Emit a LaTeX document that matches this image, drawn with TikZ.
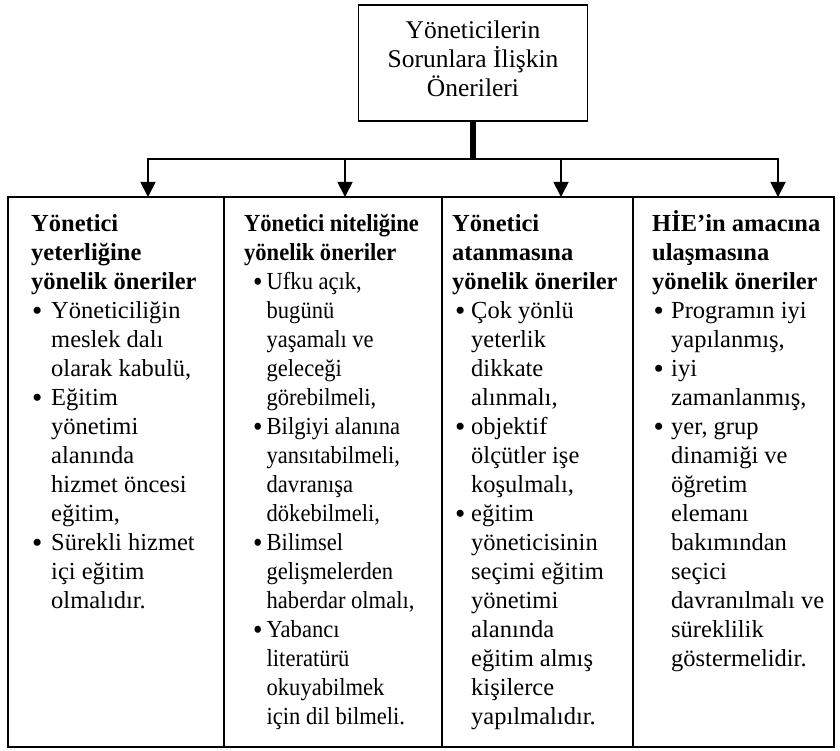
\documentclass[tikz,border=0pt]{standalone}
\usepackage{fontspec}
\setmainfont{Liberation Serif}
\newfontfamily\narrowserif{Liberation Serif}[FakeStretch=0.92]
\usetikzlibrary{arrows.meta}

\newcommand{\colfont}{\fontsize{24.5}{29}\selectfont}
\newcommand{\boxfont}{\fontsize{25.5}{29}\selectfont}
% 项目符号行 / 续行（缩进量由 \bi、\ti 给出）
\newcommand{\blt}{\makebox[\ti][l]{\hspace{\bi}\raisebox{-2.2pt}{\scalebox{1.2}{\textbullet}}}}
\newcommand{\cnt}{\hspace*{\ti}}
\newcommand{\firstline}{\rule{0pt}{23pt}}

\tikzset{
  topbox/.style={draw, line width=1.8pt, minimum width=229pt, minimum height=116pt,
    inner sep=0pt, align=center, font=\boxfont},
  cell/.style={draw, line width=1.8pt, anchor=north west, inner sep=0pt, outer sep=0pt,
    minimum height=550pt},
  coltext/.style 2 args={anchor=north west, inner sep=0pt, align=left, font=\colfont,
    execute at begin node={\def\bi{#1}\def\ti{#2}}},
  conn/.style={line width=1.8pt},
  tip/.tip={Triangle[width=15pt,length=15pt]},
}

\begin{document}
\begin{tikzpicture}[x=1pt, y=-1pt]

  %% ════ 顶部方框 ════
  \node[topbox] (top) at (473,63) {Yöneticilerin\\Sorunlara İlişkin\\Önerileri\strut};

  %% ════ 四列表格 ════
  \node[cell, minimum width=216pt] (c1) at (8,197) {};
  \node[cell, minimum width=218pt] (c2) at (224,197) {};
  \node[cell, minimum width=191pt] (c3) at (442,197) {};
  \node[cell, minimum width=201pt] (c4) at (633,197) {};

  %% ════ 连线 ════
  \coordinate (b1) at (148,159);
  \coordinate (b2) at (345,159);
  \coordinate (b3) at (561,159);
  \coordinate (b4) at (778,159);
  \draw[line width=6pt] (top.south) -- (top.south |- b1);
  \draw[conn, tip-tip] (b1 |- c1.north) -- (b1) -- (b4) -- (b4 |- c4.north);
  \draw[conn, -tip] (b2) -- (b2 |- c2.north);
  \draw[conn, -tip] (b3) -- (b3 |- c3.north);

  %% ════ 各列文字 ════
  \node[coltext={1pt}{20pt}] (t1) at (31,208) {\firstline\textbf{Yönetici}\\
    \textbf{yeterliğine}\\
    \textbf{yönelik öneriler}\\
    \blt Yöneticiliğin\\
    \cnt meslek dalı\\
    \cnt olarak kabulü,\\
    \blt Eğitim\\
    \cnt yönetimi\\
    \cnt alanında\\
    \cnt hizmet öncesi\\
    \cnt eğitim,\\
    \blt Sürekli hizmet\\
    \cnt içi eğitim\\
    \cnt olmalıdır.};

  \node[coltext={9pt}{22.5pt}, font=\colfont\narrowserif] (t2) at (244,208) {\firstline\textbf{Yönetici niteliğine}\\
    \textbf{yönelik öneriler}\\
    \blt Ufku açık,\\
    \cnt bugünü\\
    \cnt yaşamalı ve\\
    \cnt geleceği\\
    \cnt görebilmeli,\\
    \blt Bilgiyi alanına\\
    \cnt yansıtabilmeli,\\
    \cnt davranışa\\
    \cnt dökebilmeli,\\
    \blt Bilimsel\\
    \cnt gelişmelerden\\
    \cnt haberdar olmalı,\\
    \blt Yabancı\\
    \cnt literatürü\\
    \cnt okuyabilmek\\
    \cnt için dil bilmeli.};

  \node[coltext={3pt}{19pt}] (t3) at (452,208) {\firstline\textbf{Yönetici}\\
    \textbf{atanmasına}\\
    \textbf{yönelik öneriler}\\
    \blt Çok yönlü\\
    \cnt yeterlik\\
    \cnt dikkate\\
    \cnt alınmalı,\\
    \blt objektif\\
    \cnt ölçütler işe\\
    \cnt koşulmalı,\\
    \blt eğitim\\
    \cnt yöneticisinin\\
    \cnt seçimi eğitim\\
    \cnt yönetimi\\
    \cnt alanında\\
    \cnt eğitim almış\\
    \cnt kişilerce\\
    \cnt yapılmalıdır.};

  \node[coltext={1.5pt}{19pt}] (t4) at (652,208) {\firstline\textbf{HİE’in amacına}\\
    \textbf{ulaşmasına}\\
    \textbf{yönelik öneriler}\\
    \blt Programın iyi\\
    \cnt yapılanmış,\\
    \blt iyi\\
    \cnt zamanlanmış,\\
    \blt yer, grup\\
    \cnt dinamiği ve\\
    \cnt öğretim\\
    \cnt elemanı\\
    \cnt bakımından\\
    \cnt seçici\\
    \cnt davranılmalı ve\\
    \cnt süreklilik\\
    \cnt göstermelidir.};

  % 钉死画布
  \pgfresetboundingbox
  \path[use as bounding box] (0,0) rectangle (840,751);
\end{tikzpicture}
\end{document}
